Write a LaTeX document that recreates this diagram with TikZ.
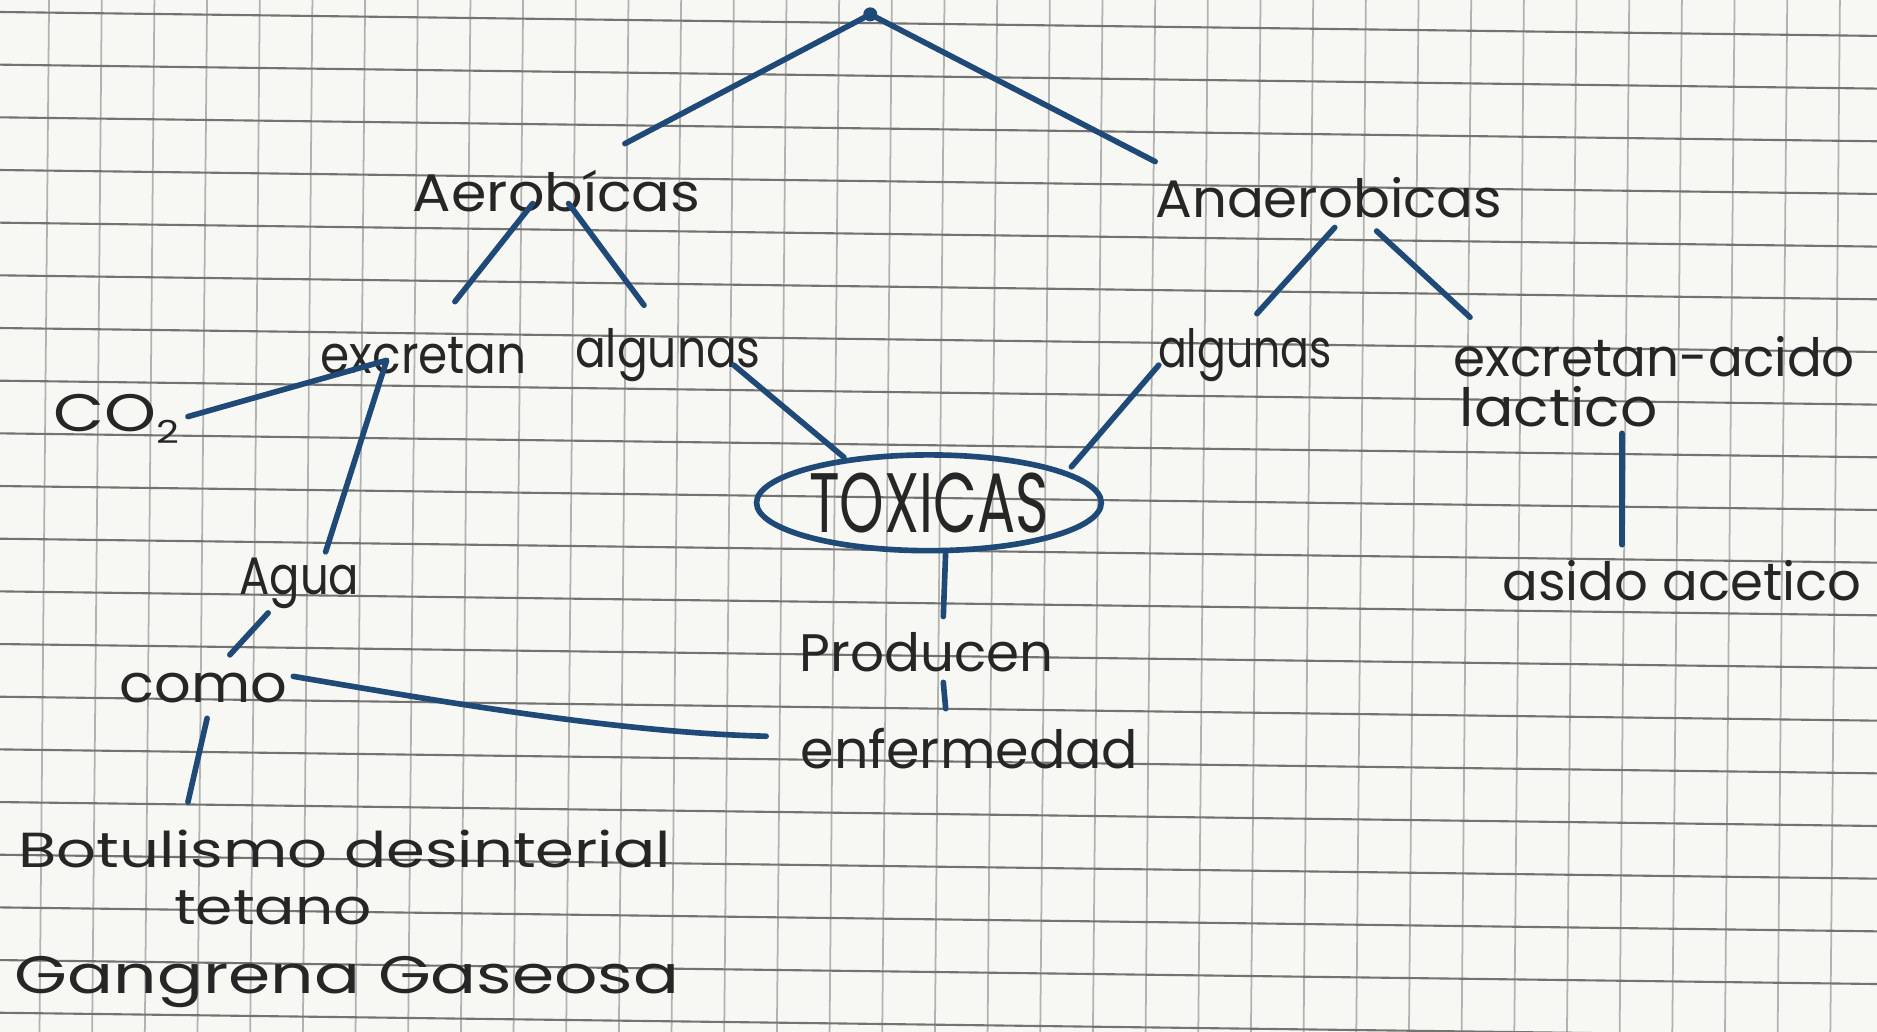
\documentclass[tikz,border=0pt]{standalone}
\usepackage{fontspec}
\setmainfont{Poppins}
\usetikzlibrary{shapes.geometric}
\newlength\pxu \setlength\pxu{0.01197cm}
\newcommand{\hw}[2]{\resizebox{#1\pxu}{\height}{#2}}
\definecolor{ink}{HTML}{1F4A78}
\definecolor{pen}{HTML}{262626}
\definecolor{paper}{HTML}{F7F7F4}
\begin{document}
\begin{tikzpicture}[x=0.01197cm,y=-0.01197cm,
  hw/.style={text=pen,inner sep=0pt,font=\fontsize{15}{17}\selectfont},
  link/.style={draw=ink,line width=1.6pt,line cap=round,line join=round}]
\fill[paper] (0,0) rectangle (1568,862);
\useasboundingbox (0,0) rectangle (1568,862);
\begin{scope}
\clip (0,0) rectangle (1568,862);
\foreach \x in {41,85,...,1620} \draw[black!30,line width=0.5pt] (\x,0) -- (\x-8,862);
\foreach \y in {18,62,...,900} \draw[black!55,line width=0.6pt] (0,\y-8) -- (1568,\y+12);
\end{scope}
% nodes
\coordinate (apex) at (727,12);
\node[hw] (aero) at (465,160) {\hw{240}{Aerobícas}};
\node[hw] (anae) at (1110,165) {\hw{290}{Anaerobicas}};
\node[hw] (exc) at (354,297) {\hw{172}{excretan}};
\node[hw] (alg1) at (558,297) {\hw{155}{algunas}};
\node[hw] (alg2) at (1040,297) {\hw{145}{algunas}};
\node[hw] (exa1) at (1382,298) {\hw{335}{excretan-acido}};
\node[hw] (exa2) at (1302,340) {\hw{165}{lactico}};
\node[hw] (acet) at (1405,485) {\hw{300}{asido acetico}};
\node[hw] (co2) at (97,350) {\hw{105}{CO\raisebox{-0.4ex}{\small 2}}};
\node[hw] (agua) at (250,487) {\hw{100}{Agua}};
\node[hw] (como) at (170,575) {\hw{140}{como}};
\node[draw=ink,line width=1.6pt,ellipse,minimum width=288\pxu,minimum height=80\pxu,inner sep=0pt] (tox) at (776,420) {};
\node[hw,font=\fontsize{24}{26}\selectfont] (toxt) at (tox.center) {\hw{200}{TOXICAS}};
\node[hw] (prod) at (774,545) {\hw{212}{Producen}};
\node[hw] (enf) at (810,625) {\hw{282}{enfermedad}};
\node[hw,font=\fontsize{14}{16}\selectfont] (bot) at (288,709) {\hw{545}{Botulismo desinterial}};
\node[hw,font=\fontsize{14}{16}\selectfont] (tet) at (228,758) {\hw{165}{tetano}};
\node[hw] (gan) at (290,820) {\hw{555}{Gangrena Gaseosa}};
% connectors
\fill[ink] (apex) circle (2pt);
\draw[link] ([shift={(57,-40)}]aero.center) -- (apex) -- ([shift={(-145,-30)}]anae.center);
\draw[link] ([shift={(-20,10)}]aero.center) -- ([shift={(26,-45)}]exc.center);
\draw[link] ([shift={(10,10)}]aero.center) -- ([shift={(-20,-42)}]alg1.center);
\draw[link] ([shift={(5,25)}]anae.center) -- ([shift={(10,-35)}]alg2.center);
\draw[link] ([shift={(40,28)}]anae.center) -- ([shift={(-154,-33)}]exa1.center);
\draw[link] ([shift={(55,8)}]alg1.center) -- ([shift={(-71,-38)}]tox.center);
\draw[link] ([shift={(-72,8)}]alg2.center) -- ([shift={(119,-30)}]tox.center);
\draw[link] ([shift={(14,40)}]tox.center) -- ([shift={(14,-30)}]prod.center);
\draw[link] ([shift={(14,25)}]prod.center) -- ([shift={(-20,-33)}]enf.center);
\draw[link] ([shift={(53,22)}]exa2.center) -- ([shift={(-50,-30)}]acet.center);
\draw[link] ([shift={(60,-2)}]co2.center) -- ([shift={(-31,4)}]exc.center) -- ([shift={(22,-26)}]agua.center);
\draw[link] ([shift={(-26,25)}]agua.center) -- ([shift={(22,-28)}]como.center);
\draw[link] ([shift={(75,-10)}]como.center) .. controls (380,588) and (520,612) .. ([shift={(-170,-10)}]enf.center);
\draw[link] ([shift={(3,25)}]como.center) -- ([shift={(-131,-39)}]bot.center);
\end{tikzpicture}
\end{document}
